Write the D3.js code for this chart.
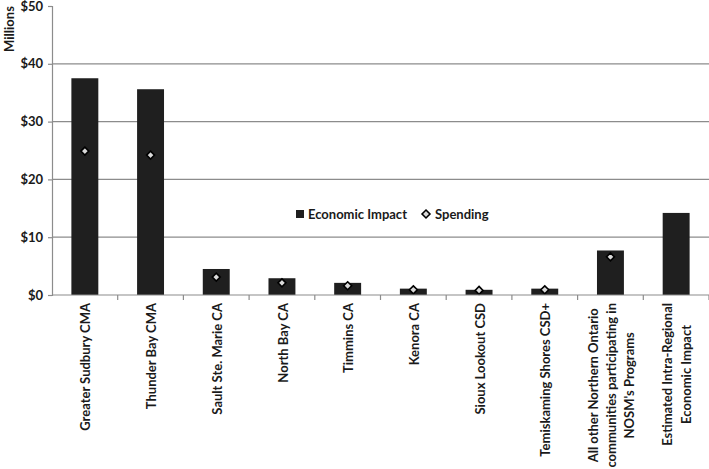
<!DOCTYPE html>
<html>
<head>
<meta charset="utf-8">
<script src="https://cdn.jsdelivr.net/npm/d3@7"></script>
<style>
  body { margin: 0; background: #fff; }
  svg text { font-family: Lato, "Open Sans", sans-serif; font-weight: bold; fill: #1a1a1a; }
</style>
</head>
<body>
<svg id="chart" width="709" height="469"></svg>
<script>
// chart data
var categories = [
  ["Greater Sudbury CMA"],
  ["Thunder Bay CMA"],
  ["Sault Ste. Marie CA"],
  ["North Bay CA"],
  ["Timmins CA"],
  ["Kenora CA"],
  ["Sioux Lookout CSD"],
  ["Temiskaming Shores CSD+"],
  ["All other Northern Ontario", "communities participating in", "NOSM's Programs"],
  ["Estimated Intra-Regional", "Economic Impact"]
];
var impact   = [37.5, 35.6, 4.5, 2.9, 2.1, 1.1, 0.9, 1.1, 7.7, 14.2];
var spending = [24.9, 24.2, 3.1, 2.1, 1.6, 0.9, 0.8, 0.9, 6.6, null];
var yTicks = [0, 10, 20, 30, 40, 50];

var margin = { top: 6, right: 0, bottom: 174, left: 52 },
    width  = 709 - margin.left - margin.right,
    height = 469 - margin.top - margin.bottom;

var svg = d3.select("#chart");
var g = svg.append("g")
  .attr("transform", "translate(" + margin.left + "," + margin.top + ")");

var x = d3.scaleBand()
  .domain(d3.range(categories.length))
  .range([0, width])
  .paddingInner(0.59).paddingOuter(0.295);

var xTick = d3.scaleLinear().domain([0, categories.length]).range([0, width]);

var y = d3.scaleLinear().domain([0, 50]).range([height, 0]);

// gridlines (none at 0 or at the top)
g.append("g").selectAll("line")
  .data(yTicks.filter(function(d){ return d > 0 && d < 50; })).enter().append("line")
  .attr("x1", 0).attr("x2", width)
  .attr("y1", function(d){ return y(d); }).attr("y2", function(d){ return y(d); })
  .attr("stroke", "#8c8c8c").attr("stroke-width", 1.2);

// bars
g.append("g").selectAll("rect")
  .data(impact).enter().append("rect")
  .attr("x", function(d, i){ return x(i); })
  .attr("width", x.bandwidth())
  .attr("y", function(d){ return y(d); })
  .attr("height", function(d){ return height - y(d); })
  .attr("fill", "#1f1f1f");

// spending markers
var diamond = d3.symbol().type(d3.symbolDiamond2).size(40);
g.append("g").selectAll("path")
  .data(spending.map(function(d, i){ return { v: d, i: i }; })
    .filter(function(d){ return d.v != null; }))
  .enter().append("path")
  .attr("d", diamond)
  .attr("transform", function(d){
    return "translate(" + (x(d.i) + x.bandwidth() / 2) + "," + y(d.v) + ")";
  })
  .attr("fill", "#d9d9d9").attr("stroke", "#000").attr("stroke-width", 1.6);

// y axis
var yAxis = g.append("g")
  .call(d3.axisLeft(y).tickValues(yTicks).tickSize(4).tickPadding(5)
    .tickFormat(function(d){ return "$" + d; }));
yAxis.select(".domain").attr("stroke", "#8c8c8c").attr("stroke-width", 1.2);
yAxis.selectAll(".tick line").attr("stroke", "#8c8c8c").attr("stroke-width", 1.2);
yAxis.selectAll(".tick text").style("font-size", "13px").style("font-family", null);

// x axis line and ticks
g.append("line")
  .attr("x1", 0).attr("x2", width).attr("y1", height).attr("y2", height)
  .attr("stroke", "#8c8c8c").attr("stroke-width", 1.2);
g.append("g").selectAll("line")
  .data(d3.range(1, categories.length + 1)).enter().append("line")
  .attr("x1", function(d){ return xTick(d); }).attr("x2", function(d){ return xTick(d); })
  .attr("y1", height).attr("y2", height + 5)
  .attr("stroke", "#8c8c8c").attr("stroke-width", 1.2);

// category labels, rotated
var lineGap = 18.5;
var labels = g.append("g").selectAll("g")
  .data(categories).enter().append("g")
  .attr("transform", function(d, i){
    return "translate(" + (x(i) + x.bandwidth() / 2 + 1) + "," + (height + 8) + ") rotate(-90)";
  });
labels.each(function(lines){
  var sel = d3.select(this);
  var n = lines.length;
  var texts = sel.selectAll("text").data(lines).enter().append("text")
    .style("font-size", "13px")
    .attr("dy", "0.35em")
    .attr("y", function(d, k){ return (k - (n - 1) / 2) * lineGap; })
    .text(function(d){ return d; });
  var maxLen = d3.max(texts.nodes(), function(t){ return t.getComputedTextLength(); });
  texts.attr("text-anchor", "middle").attr("x", -maxLen / 2);
});

// Millions title
svg.append("text")
  .attr("transform", "translate(14,29) rotate(-90)")
  .attr("text-anchor", "middle")
  .style("font-size", "13px")
  .text("Millions");

// legend
var legend = svg.append("g").attr("transform", "translate(296,214)");
legend.append("rect").attr("x", 0).attr("y", -4).attr("width", 8).attr("height", 8).attr("fill", "#1f1f1f");
legend.append("text").attr("x", 12).attr("dy", "0.35em").style("font-size", "13px").text("Economic Impact");
legend.append("path").attr("d", diamond)
  .attr("transform", "translate(130,0)")
  .attr("fill", "#d9d9d9").attr("stroke", "#000").attr("stroke-width", 1.6);
legend.append("text").attr("x", 139).attr("dy", "0.35em").style("font-size", "13px").text("Spending");
</script>
</body>
</html>
